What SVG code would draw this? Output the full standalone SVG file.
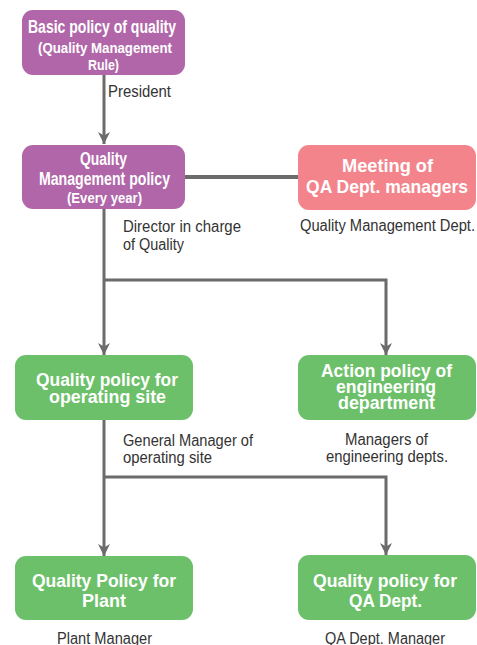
<svg xmlns="http://www.w3.org/2000/svg" width="477" height="645" viewBox="0 0 477 645">
<style>
.p{fill:#b166a9}
.k{fill:#f4848c}
.g{fill:#6cc06a}
.t{font-family:"Liberation Sans",Arial,sans-serif;font-weight:bold;fill:#fff;text-anchor:middle}
.l{font-family:"Liberation Sans",Arial,sans-serif;fill:#333;font-size:16px}
.c{stroke:#6b6b6b;stroke-width:3;fill:none}
</style>
<defs>
<marker id="a" viewBox="0 0 10 10" refX="10" refY="5" markerWidth="4" markerHeight="4" orient="auto" markerUnits="strokeWidth">
<path d="M0,0 L10,5 L0,10 L3,5 Z" fill="#6b6b6b"/>
</marker>
</defs>
<g id="connectors">
<path class="c" d="M104,75 V144" marker-end="url(#a)"/>
<path class="c" d="M185,177 H298" style="stroke-width:4"/>
<path class="c" d="M104,209 V355" marker-end="url(#a)"/>
<path class="c" d="M104,280 H386 V355" marker-end="url(#a)"/>
<path class="c" d="M104,420 V556" marker-end="url(#a)"/>
<path class="c" d="M104,477 H386 V555" marker-end="url(#a)"/>
</g>
<g id="n1">
<rect class="p" x="22" y="10" width="163" height="65" rx="11"/>
<text class="t" x="102" y="33" font-size="18" textLength="148" lengthAdjust="spacingAndGlyphs">Basic policy of quality</text>
<text class="t" x="105" y="53" font-size="15" textLength="134" lengthAdjust="spacingAndGlyphs">(Quality Management</text>
<text class="t" x="103.5" y="70" font-size="15" textLength="31" lengthAdjust="spacingAndGlyphs">Rule)</text>
</g>
<text class="l" x="108" y="97" textLength="63" lengthAdjust="spacingAndGlyphs">President</text>
<g id="n2">
<rect class="p" x="22" y="145" width="163" height="64" rx="11"/>
<text class="t" x="103.5" y="165" font-size="17.5" textLength="47" lengthAdjust="spacingAndGlyphs">Quality</text>
<text class="t" x="104.5" y="185" font-size="17.5" textLength="131" lengthAdjust="spacingAndGlyphs">Management policy</text>
<text class="t" x="104.5" y="203" font-size="14.5" textLength="75" lengthAdjust="spacingAndGlyphs">(Every year)</text>
</g>
<text class="l" x="123" y="232" textLength="118" lengthAdjust="spacingAndGlyphs">Director in charge</text>
<text class="l" x="123" y="250" textLength="61" lengthAdjust="spacingAndGlyphs">of Quality</text>
<g id="n3">
<rect class="k" x="298" y="145" width="178" height="65" rx="11"/>
<text class="t" x="387.5" y="172" font-size="19" textLength="91" lengthAdjust="spacingAndGlyphs">Meeting of</text>
<text class="t" x="387" y="193" font-size="19" textLength="162" lengthAdjust="spacingAndGlyphs">QA Dept. managers</text>
</g>
<text class="l" x="387.5" y="231" text-anchor="middle" textLength="175" lengthAdjust="spacingAndGlyphs">Quality Management Dept.</text>
<g id="n4">
<rect class="g" x="15" y="355" width="178" height="65" rx="11"/>
<text class="t" x="107" y="386" font-size="19" textLength="142" lengthAdjust="spacingAndGlyphs">Quality policy for</text>
<text class="t" x="107.5" y="403" font-size="19" textLength="117" lengthAdjust="spacingAndGlyphs">operating site</text>
</g>
<text class="l" x="123" y="446" textLength="130" lengthAdjust="spacingAndGlyphs">General Manager of</text>
<text class="l" x="123" y="463" textLength="89" lengthAdjust="spacingAndGlyphs">operating site</text>
<g id="n5">
<rect class="g" x="298" y="355" width="178" height="65" rx="11"/>
<text class="t" x="386.5" y="377" font-size="19" textLength="131" lengthAdjust="spacingAndGlyphs">Action policy of</text>
<text class="t" x="386" y="393" font-size="19" textLength="100" lengthAdjust="spacingAndGlyphs">engineering</text>
<text class="t" x="386.5" y="409" font-size="19" textLength="97" lengthAdjust="spacingAndGlyphs">department</text>
</g>
<text class="l" x="386.5" y="445" text-anchor="middle" textLength="83" lengthAdjust="spacingAndGlyphs">Managers of</text>
<text class="l" x="387" y="462" text-anchor="middle" textLength="122" lengthAdjust="spacingAndGlyphs">engineering depts.</text>
<g id="n6">
<rect class="g" x="15" y="556" width="178" height="64" rx="11"/>
<text class="t" x="104" y="587" font-size="19" textLength="144" lengthAdjust="spacingAndGlyphs">Quality Policy for</text>
<text class="t" x="104" y="607" font-size="19" textLength="44" lengthAdjust="spacingAndGlyphs">Plant</text>
</g>
<text class="l" x="104.5" y="644" text-anchor="middle" textLength="95" lengthAdjust="spacingAndGlyphs">Plant Manager</text>
<g id="n7">
<rect class="g" x="298" y="555" width="178" height="65" rx="11"/>
<text class="t" x="385" y="587" font-size="19" textLength="144" lengthAdjust="spacingAndGlyphs">Quality policy for</text>
<text class="t" x="385.5" y="607" font-size="19" textLength="73" lengthAdjust="spacingAndGlyphs">QA Dept.</text>
</g>
<text class="l" x="385" y="644" text-anchor="middle" textLength="120" lengthAdjust="spacingAndGlyphs">QA Dept. Manager</text>
</svg>
